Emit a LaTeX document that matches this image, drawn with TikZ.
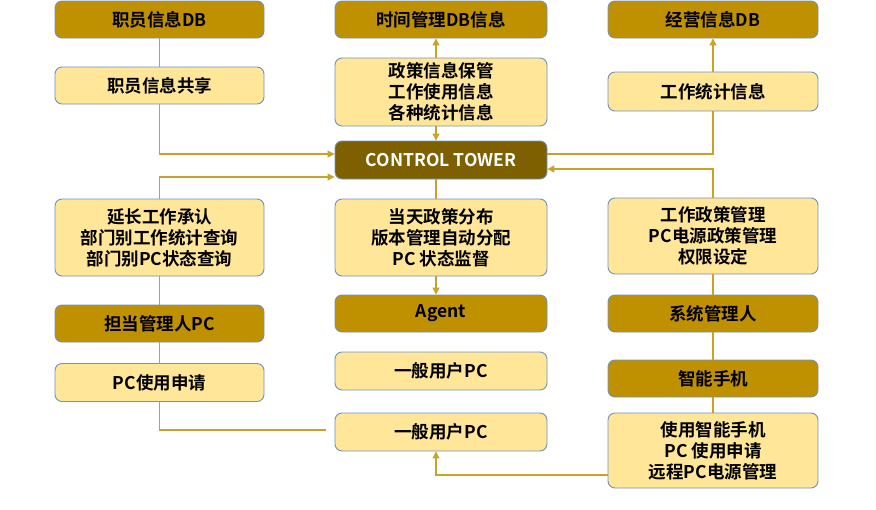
\documentclass[tikz,border=0pt]{standalone}
\usepackage{fontspec}
\setmainfont{Noto Sans CJK SC}[BoldFont={Noto Sans CJK SC Bold}]
\usetikzlibrary{arrows.meta}
\definecolor{darkgold}{HTML}{BF9000}
\definecolor{lightgold}{HTML}{FFE699}
\definecolor{boxedge}{HTML}{6F93BC}
\definecolor{towerfill}{HTML}{7F6000}
\definecolor{linkcol}{HTML}{C9A227}
\tikzset{
  basebox/.style={draw=boxedge, line width=0.9pt, rounded corners=7pt, align=center,
    font=\fontsize{17.5}{21}\selectfont\bfseries, inner sep=0pt, anchor=center},
  lightbox/.style={basebox, fill=lightgold},
  darkbox/.style={basebox, fill=darkgold},
  towerbox/.style={basebox, fill=towerfill, text=white},
  wL/.style={minimum width=209pt},
  wC/.style={minimum width=212pt},
  wR/.style={minimum width=210pt},
  link/.style={draw=linkcol, line width=1.1pt},
  arr/.style={link, -{Triangle[length=7pt,width=7pt]}},
}
\begin{document}
\begin{tikzpicture}[x=1pt,y=-1pt]
\useasboundingbox (0,0) rectangle (876,509);
% left column
\node[darkbox, wL, minimum height=37pt] (L1) at (159.5,19.5) {职员信息DB};
\node[lightbox, wL, minimum height=37pt] (L2) at (159.5,85.5) {职员信息共享};
\node[lightbox, wL, minimum height=77pt] (L3) at (159.5,237.5) {延长工作承认\\部门别工作统计查询\\部门别PC状态查询};
\node[darkbox, wL, minimum height=37pt] (L4) at (159.5,323.5) {担当管理人PC};
\node[lightbox, wL, minimum height=38pt] (L5) at (159.5,382.5) {PC使用申请};
% center column
\node[darkbox, wC, minimum height=37pt] (C1) at (441,19.5) {时间管理DB信息};
\node[lightbox, wC, minimum height=68pt] (C2) at (441,92) {政策信息保管\\工作使用信息\\各种统计信息};
\node[towerbox, wC, minimum height=38pt] (CT) at (441,160) {CONTROL TOWER};
\node[lightbox, wC, minimum height=77pt] (C3) at (441,237.5) {当天政策分布\\版本管理自动分配\\PC 状态监督};
\node[darkbox, wC, minimum height=37pt] (C4) at (441,313.5) {Agent};
\node[lightbox, wC, minimum height=38pt] (C5) at (441,371) {一般用户PC};
\node[lightbox, wC, minimum height=38pt] (C6) at (441,432) {一般用户PC};
% right column
\node[darkbox, wR, minimum height=37pt] (R1) at (713,19.5) {经营信息DB};
\node[lightbox, wR, minimum height=39pt] (R2) at (713,91.5) {工作统计信息};
\node[lightbox, wR, minimum height=76pt] (R3) at (713,236) {工作政策管理\\PC电源政策管理\\权限设定};
\node[darkbox, wR, minimum height=37pt] (R4) at (713,313.5) {系统管理人};
\node[darkbox, wR, minimum height=37pt] (R5) at (713,378.5) {智能手机};
\node[lightbox, wR, minimum height=75pt] (R6) at (713,450.5) {使用智能手机\\PC 使用申请\\远程PC电源管理};
\coordinate (pcend) at ([xshift=-9pt,yshift=2pt]C6.west);
% connectors
\draw[link] (L1.south) -- (L2.north);
\draw[arr] (L2.south) |- ([yshift=6pt]CT.west);
\draw[arr] (L3.north) |- ([yshift=-17pt]CT.west);
\draw[link] (L3.south) -- (L4.north);
\draw[link] (L4.south) -- (L5.north);
\draw[link] (L5.south) |- (pcend);
\draw[arr] ([xshift=-5pt]C2.north) -- ([xshift=-5pt]C1.south);
\draw[arr] ([xshift=-5pt]C2.south) -- ([xshift=-5pt]CT.north);
\draw[link] ([xshift=-5pt]CT.south) -- ([xshift=-5pt]C3.north);
\draw[arr] ([xshift=-5pt]C3.south) -- ([xshift=-5pt]C4.north);
\draw[arr] (R2.north) -- (R1.south);
\draw[link] ([yshift=6pt]CT.east) -| (R2.south);
\draw[arr] (R3.north) |- ([yshift=-9pt]CT.east);
\draw[link] (R3.south) -- (R4.north);
\draw[link] (R4.south) -- (R5.north);
\draw[link] (R5.south) -- (R6.north);
\draw[arr] ([yshift=-24.5pt]R6.west) -| ([xshift=-5pt]C6.south);
\end{tikzpicture}
\end{document}
